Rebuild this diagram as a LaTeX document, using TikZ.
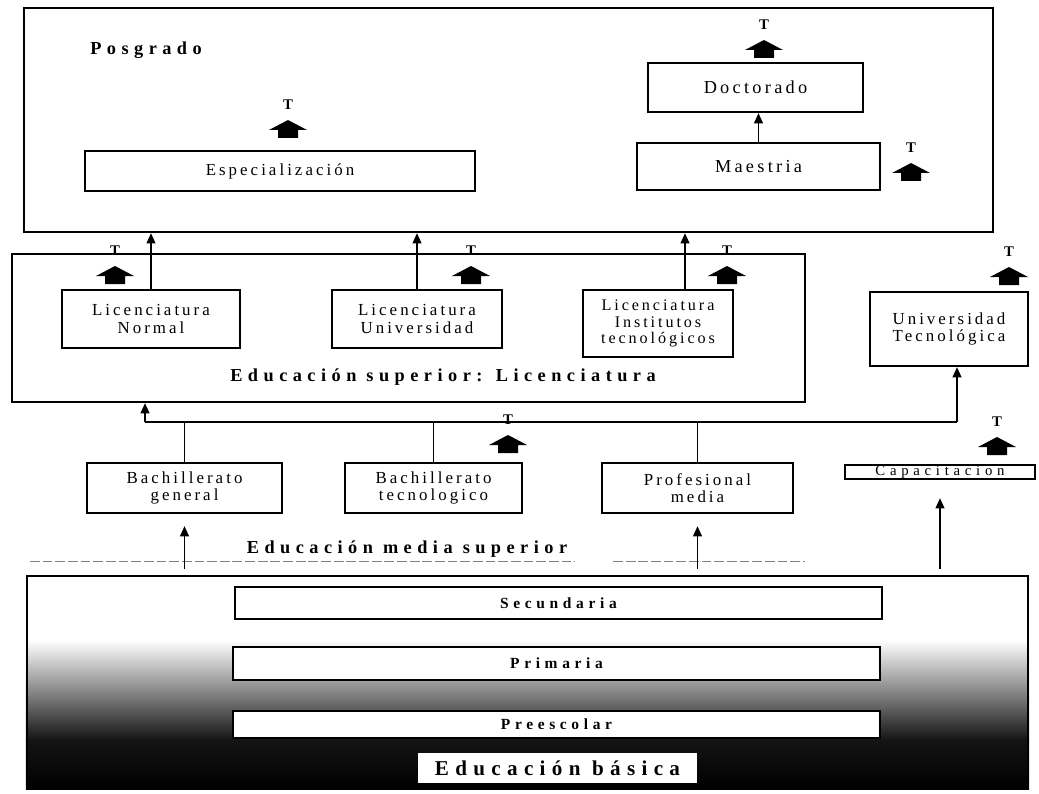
\documentclass[tikz,border=0pt]{standalone}
\usepackage{fontspec}
\setmainfont{Liberation Serif}
\newfontfamily\boxfont[LetterSpace=18]{Liberation Serif}
\newfontfamily\headfont[LetterSpace=30]{Liberation Serif}
\usetikzlibrary{arrows.meta,backgrounds}
\tikzset{
  stage/.style={draw=black,line width=1.5pt,fill=white,inner sep=0pt,align=center,font=\boxfont\fontsize{12}{12.5}\selectfont},
  outer/.style={draw=black,line width=1.5pt,inner sep=0pt},
  heading/.style={inner sep=0pt,font=\headfont\bfseries\fontsize{13}{13}\selectfont},
  tmark/.style={inner sep=0pt,font=\headfont\bfseries\fontsize{10.5}{10.5}\selectfont},
  flowup/.style={-{Triangle[length=2.6mm,width=2.2mm]},line width=1.4pt,draw=black},
  conn/.style={line width=1.4pt,draw=black},
  tarrow/.pic={
    \fill (-19,10) -- (0,0) -- (19,10) -- (10,10) -- (10,18) -- (-10,18) -- (-10,10) -- cycle;
    \node[tmark] (-t) at (0,-15) {T};
  }
}
\begin{document}
\begin{tikzpicture}[x=0.025cm,y=-0.025cm]
\useasboundingbox (0,0) rectangle (1039,794);
% Posgrado
\node[outer,minimum width=24.225cm,minimum height=5.6cm] (posgrado) at (508.5,120) {};
\node[heading,anchor=west] (tposg) at (90,50) {Posgrado};
\node[stage,minimum width=9.75cm,minimum height=1cm] (espec) at (280,171) {Especialización};
\node[stage,minimum width=5.375cm,minimum height=1.225cm,font=\boxfont\fontsize{13}{13}\selectfont] (doct) at (755.5,87.5) {Doctorado};
\node[stage,minimum width=6.075cm,minimum height=1.175cm,font=\boxfont\fontsize{13}{13}\selectfont] (maes) at (758.5,166.5) {Maestria};
\pic (te) at (288,120) {tarrow};
\pic (td) at (764,40) {tarrow};
\pic (tm) at (911,163) {tarrow};
\draw[flowup] (maes.north) -- (maes.north |- doct.south);

% Licenciatura
\node[outer,minimum width=19.825cm,minimum height=3.7cm] (licsup) at (408.5,328) {};
\node[heading] (tsup) at (443,377) {Educación superior: Licenciatura};
\node[stage,minimum width=4.45cm,minimum height=1.45cm] (lnormal) at (151,319) {Licenciatura\\Normal};
\node[stage,minimum width=4.25cm,minimum height=1.45cm] (luniv) at (417,319) {Licenciatura\\Universidad};
\node[stage,minimum width=3.75cm,minimum height=1.675cm,font=\boxfont\fontsize{11.5}{12}\selectfont] (linst) at (658,323.5) {Licenciatura\\Institutos\\tecnológicos};
\node[stage,minimum width=3.95cm,minimum height=1.85cm] (utec) at (949,329) {Universidad\\Tecnológica};
\pic (tn) at (115,266) {tarrow};
\pic (tu) at (471,266) {tarrow};
\pic (ti) at (727,266) {tarrow};
\pic (tt) at (1009,267) {tarrow};
\coordinate (linup) at ([xshift=0.675cm]linst.north);
\draw[flowup] (lnormal.north) -- (lnormal.north |- posgrado.south);
\draw[flowup] (luniv.north) -- (luniv.north |- posgrado.south);
\draw[flowup] (linup) -- (linup |- posgrado.south);

% Media superior
\node[stage,minimum width=4.875cm,minimum height=1.25cm] (bgral) at (184.5,488) {Bachillerato\\general};
\node[stage,minimum width=4.425cm,minimum height=1.25cm] (btec) at (433.5,488) {Bachillerato\\tecnologico};
\node[stage,minimum width=4.775cm,minimum height=1.25cm] (pmedia) at (697.5,488) {Profesional\\media};
\node[stage,minimum width=4.75cm,minimum height=0.35cm,font=\boxfont\addfontfeatures{LetterSpace=32}\fontsize{10.5}{10.5}\selectfont] (capac) at (940,472) {Capacitacion};
\pic (tb) at (508,435) {tarrow};
\pic (tc) at (997,437) {tarrow};
\coordinate (busl) at (145,422);
\coordinate (busr) at (957,422);
\draw[conn] (busl) -- (busr);
\draw[flowup] (busl) -- (busl |- licsup.south);
\draw[flowup] (busr) -- (busr |- utec.south);
\draw[conn] (bgral.north) -- (bgral.north |- busl);
\draw[conn] (btec.north) -- (btec.north |- busl);
\draw[conn] (pmedia.north) -- (pmedia.north |- busl);
\node[heading] (tmedia) at (407,549) {Educación media superior};
\draw[gray,line width=0.6pt,dash pattern=on 7pt off 2pt] (30,561) -- (575,561);
\draw[gray,line width=0.6pt,dash pattern=on 7pt off 2pt] (613,561) -- (805,561);

% Basica
\node[outer,minimum width=25.025cm,minimum height=5.3cm] (basica) at (527.5,682) {};
\begin{scope}[on background layer]
\shade[top color=white,bottom color=black!55] (basica.west |- 0,640) rectangle (basica.east |- 0,700);
\shade[top color=black!55,bottom color=black!92] (basica.west |- 0,700) rectangle (basica.east |- 0,740);
\shade[top color=black!92,bottom color=black] (basica.west |- 0,740) rectangle (basica.south east);
\end{scope}
\node[stage,minimum width=16.175cm,minimum height=0.8cm,font=\headfont\bfseries\fontsize{11}{11}\selectfont] (secund) at (558.5,603) {Secundaria};
\node[stage,minimum width=16.175cm,minimum height=0.825cm,font=\headfont\bfseries\fontsize{11}{11}\selectfont] (prim) at (556.5,663.5) {Primaria};
\node[stage,minimum width=16.175cm,minimum height=0.675cm,font=\headfont\bfseries\fontsize{11}{11}\selectfont] (prees) at (556.5,724.5) {Preescolar};
\node[heading,fill=white,minimum width=6.975cm,minimum height=0.75cm,font=\headfont\bfseries\fontsize{15}{15}\selectfont] (tbas) at (557.5,768) {Educación básica};
\draw[flowup,shorten <=0.15cm,shorten >=0.3cm] (bgral.south |- basica.north) -- (bgral.south);
\draw[flowup,shorten <=0.15cm,shorten >=0.3cm] (pmedia.south |- basica.north) -- (pmedia.south);
\draw[flowup,shorten <=0.15cm,shorten >=0.45cm] (capac.south |- basica.north) -- (capac.south);
\end{tikzpicture}
\end{document}
